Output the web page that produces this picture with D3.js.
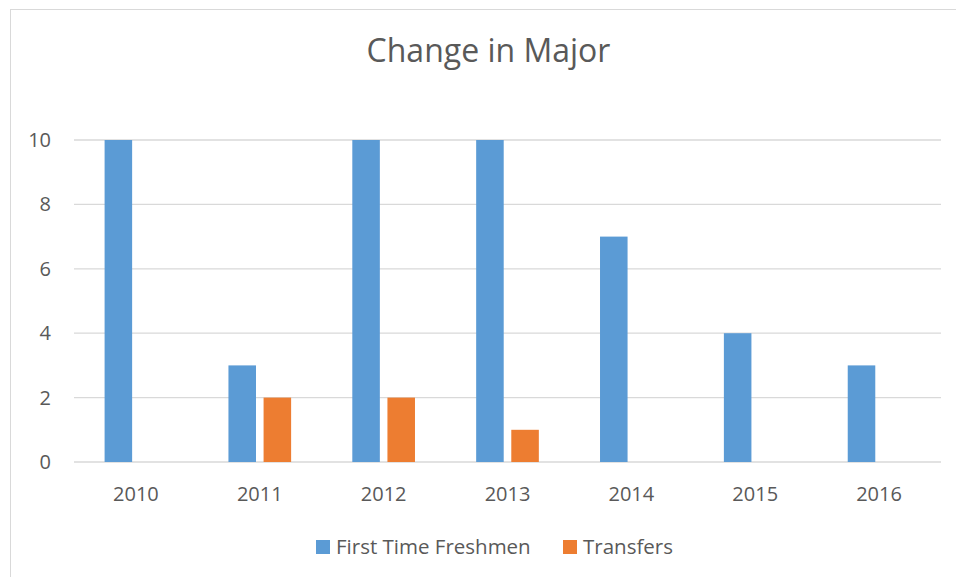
<!DOCTYPE html>
<html>
<head>
  <meta charset="utf-8">
  <title>Change in Major</title>
  <style>
    body {
      margin: 0;
      background: #fff;
    }
    text {
      font-family: "Open Sans", sans-serif;
      fill: #595959;
    }
    .grid line {
      stroke: #d9d9d9;
      stroke-width: 1.3px;
    }
  </style>
</head>
<body>
  <div id="chart"></div>

  <script src="https://cdn.jsdelivr.net/npm/d3@7"></script>
  <script>
    var years = ['2010', '2011', '2012', '2013', '2014', '2015', '2016'];
    var freshmen = [10, 3, 10, 10, 7, 4, 3];
    var transfers = [0, 2, 2, 1, 0, 0, 0];
    var seriesNames = ['First Time Freshmen', 'Transfers'];
    var colors = ['#5b9bd5', '#ed7d31'];
    var yTicks = [0, 2, 4, 6, 8, 10];

    var width = 956,
      height = 577;
    var margin = {top: 140, right: 15, bottom: 115, left: 74};

    var svg = d3.select('#chart').append('svg')
      .attr('width', width)
      .attr('height', height);

    // chart area border (cut off on the right and bottom)
    svg.append('rect')
      .attr('x', 10.5)
      .attr('y', 9.5)
      .attr('width', width)
      .attr('height', height)
      .attr('fill', 'none')
      .attr('stroke', '#d9d9d9')
      .attr('stroke-width', 1);

    svg.append('text')
      .attr('x', 488.5)
      .attr('y', 62)
      .attr('text-anchor', 'middle')
      .style('font-size', '32px')
      .text('Change in Major');

    var x = d3.scaleBand()
      .domain(years)
      .range([margin.left, width - margin.right])
      .paddingInner(0.494)
      .paddingOuter(0.247);

    var x1 = d3.scaleBand()
      .domain([0, 1])
      .range([0, x.bandwidth()])
      .paddingInner(0.216);

    var y = d3.scaleLinear()
      .domain([0, 10])
      .range([height - margin.bottom, margin.top]);

    var grid = svg.append('g').attr('class', 'grid');
    grid.selectAll('line')
      .data(yTicks)
      .enter()
      .append('line')
      .attr('x1', margin.left)
      .attr('x2', width - margin.right)
      .attr('y1', function(d) { return y(d); })
      .attr('y2', function(d) { return y(d); });

    svg.append('g').selectAll('text')
      .data(yTicks)
      .enter()
      .append('text')
      .attr('x', 51)
      .attr('y', function(d) { return y(d) + 7; })
      .attr('text-anchor', 'end')
      .style('font-size', '20px')
      .text(function(d) { return d; });

    svg.append('g').selectAll('text')
      .data(years)
      .enter()
      .append('text')
      .attr('x', function(d) { return x(d) + x.bandwidth() / 2; })
      .attr('y', 501)
      .attr('text-anchor', 'middle')
      .style('font-size', '20px')
      .text(function(d) { return d; });

    var series = [freshmen, transfers];
    series.forEach(function(values, s) {
      var rows = values.map(function(v, i) {
        return {year: years[i], value: v};
      }).filter(function(d) { return d.value > 0; });

      svg.append('g').selectAll('rect')
        .data(rows)
        .enter()
        .append('rect')
        .attr('x', function(d) { return x(d.year) + x1(s); })
        .attr('y', function(d) { return y(d.value); })
        .attr('width', x1.bandwidth())
        .attr('height', function(d) { return y(0) - y(d.value); })
        .attr('fill', colors[s]);
    });

    // legend
    var legendX = [316, 563];
    var legend = svg.append('g').selectAll('g')
      .data(seriesNames)
      .enter()
      .append('g')
      .attr('transform', function(d, i) { return 'translate(' + legendX[i] + ',540)'; });

    legend.append('rect')
      .attr('width', 14)
      .attr('height', 14)
      .attr('fill', function(d, i) { return colors[i]; });

    legend.append('text')
      .attr('x', 20)
      .attr('y', 14)
      .style('font-size', '20.5px')
      .text(function(d) { return d; });
  </script>
</body>
</html>
